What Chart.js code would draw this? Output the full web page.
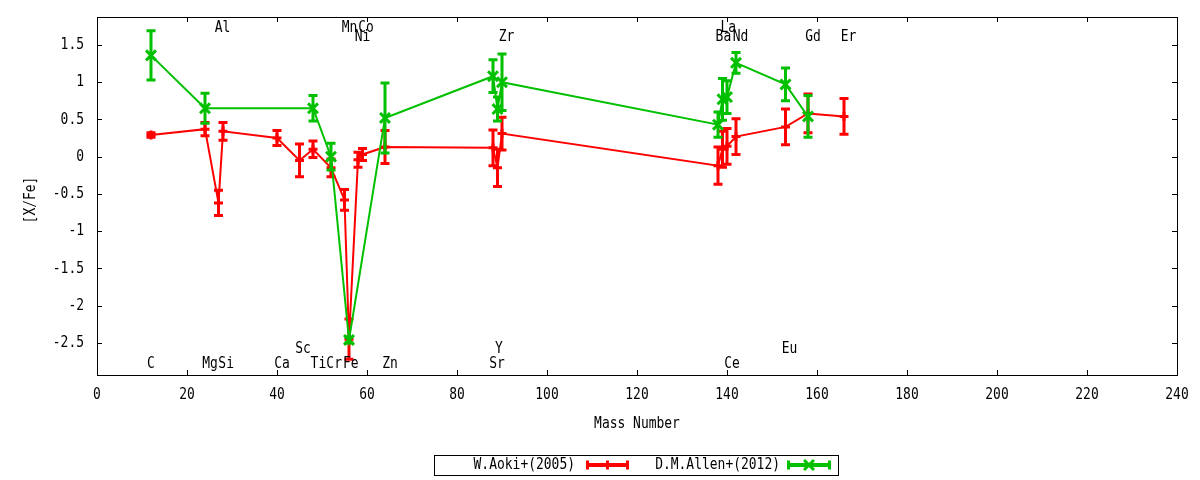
<!DOCTYPE html>
<html>
<head>
<meta charset="utf-8">
<script src="https://cdn.jsdelivr.net/npm/chart.js@4.4.0/dist/chart.umd.min.js"></script>
<style>
  html, body { margin: 0; padding: 0; background: #fff; }
  #wrap { width: 1200px; height: 480px; }
</style>
</head>
<body>
<div id="wrap"><canvas id="abundChart"></canvas></div>
<script>
// W.Aoki+(2005): mass number, [X/Fe], error
const aokiMass  = [12, 24, 27, 28, 40, 45, 48, 52, 55, 56, 58, 59, 64, 88, 89, 90, 138, 139, 140, 142, 153, 158, 166];
const aokiValue = [0.29, 0.37, -0.62, 0.34, 0.25, -0.05, 0.10, -0.15, -0.58, -2.45, -0.04, 0.03, 0.13, 0.12, -0.15, 0.31, -0.12, 0.10, 0.14, 0.27, 0.40, 0.58, 0.54];
const aokiError = [0.03, 0.09, 0.17, 0.12, 0.10, 0.22, 0.11, 0.12, 0.14, 0.27, 0.10, 0.08, 0.22, 0.24, 0.25, 0.22, 0.25, 0.24, 0.24, 0.24, 0.24, 0.26, 0.24];

// D.M.Allen+(2012)
const allenMass  = [12, 24, 48, 52, 56, 64, 88, 89, 90, 138, 139, 140, 142, 153, 158];
const allenValue = [1.36, 0.65, 0.65, 0.00, -2.46, 0.52, 1.08, 0.64, 1.00, 0.43, 0.77, 0.80, 1.26, 0.97, 0.54];
const allenError = [0.33, 0.20, 0.17, 0.18, 0.04, 0.47, 0.22, 0.16, 0.38, 0.17, 0.28, 0.22, 0.14, 0.22, 0.28];

const xTickValues = [0, 20, 40, 60, 80, 100, 120, 140, 160, 180, 200, 220, 240];
const yTickValues = [-2.5, -2, -1.5, -1, -0.5, 0, 0.5, 1, 1.5];

// element names: symbol, mass position, row
const labelRows = [1.734, 1.607, -2.581, -2.776];
const elementLabels = [
    ['Al', 27.9, 0], ['Mn', 56.1, 0], ['Co', 59.8, 0], ['La', 140.3, 0],
    ['Ni', 59.0, 1], ['Zr', 91.0, 1], ['Ba', 139.2, 1], ['Nd', 143.0, 1], ['Gd', 159.1, 1], ['Er', 167.0, 1],
    ['Sc', 45.8, 2], ['Y', 89.3, 2], ['Eu', 153.9, 2],
    ['C', 12.0, 3], ['Mg', 25.1, 3], ['Si', 28.7, 3], ['Ca', 41.1, 3], ['Ti', 49.2, 3], ['Cr', 52.7, 3],
    ['Fe', 56.4, 3], ['Zn', 65.1, 3], ['Sr', 88.9, 3], ['Ce', 141.1, 3]
];

const errorSets = [aokiError, allenError];
const FONT = '16px "DejaVu Sans Mono"';

function drawText(ctx, str, x, y, align, rot) {
    ctx.save();
    ctx.translate(x, y);
    if (rot) ctx.rotate(rot);
    ctx.scale(0.81, 1);
    ctx.font = FONT;
    ctx.fillStyle = '#000';
    ctx.textAlign = align;
    ctx.textBaseline = 'middle';
    ctx.fillText(str, 0, 0);
    ctx.restore();
}

const errorBars = {
    id: 'errorBars',
    afterDatasetDraw(chart, args) {
        const ds = chart.data.datasets[args.index];
        const errs = errorSets[args.index];
        const yScale = chart.scales.y;
        const ctx = chart.ctx;
        ctx.save();
        ctx.strokeStyle = ds.borderColor;
        ctx.lineWidth = 3;
        args.meta.data.forEach((pt, i) => {
            const v = ds.data[i].y;
            const top = yScale.getPixelForValue(v + errs[i]);
            const bot = yScale.getPixelForValue(v - errs[i]);
            ctx.beginPath();
            ctx.moveTo(pt.x, top);
            ctx.lineTo(pt.x, bot);
            ctx.moveTo(pt.x - 4.5, top);
            ctx.lineTo(pt.x + 4.5, top);
            ctx.moveTo(pt.x - 4.5, bot);
            ctx.lineTo(pt.x + 4.5, bot);
            ctx.stroke();
        });
        ctx.restore();
    }
};

const frameAndText = {
    id: 'frameAndText',
    afterDraw(chart) {
        const ctx = chart.ctx;
        const a = chart.chartArea;
        const xs = chart.scales.x, ys = chart.scales.y;

        ctx.save();
        ctx.strokeStyle = '#000';
        ctx.lineWidth = 1;
        ctx.strokeRect(Math.round(a.left) + 0.5, Math.round(a.top) + 0.5,
            Math.round(a.right - a.left), Math.round(a.bottom - a.top));

        ctx.beginPath();
        xs.ticks.forEach(t => {
            const px = Math.round(xs.getPixelForValue(t.value)) + 0.5;
            ctx.moveTo(px, a.bottom); ctx.lineTo(px, a.bottom - 5);
            ctx.moveTo(px, a.top); ctx.lineTo(px, a.top + 5);
        });
        ys.ticks.forEach(t => {
            const py = Math.round(ys.getPixelForValue(t.value)) + 0.5;
            ctx.moveTo(a.left, py); ctx.lineTo(a.left + 5, py);
            ctx.moveTo(a.right, py); ctx.lineTo(a.right - 5, py);
        });
        ctx.stroke();
        ctx.restore();

        xs.ticks.forEach(t => drawText(ctx, String(t.value), xs.getPixelForValue(t.value), a.bottom + 20, 'center'));
        ys.ticks.forEach(t => drawText(ctx, String(t.value), a.left - 13, ys.getPixelForValue(t.value), 'right'));

        drawText(ctx, 'Mass Number', (a.left + a.right) / 2, 424, 'center');
        drawText(ctx, '[X/Fe]', 31, 200, 'center', -Math.PI / 2);

        elementLabels.forEach(([sym, m, row]) => {
            drawText(ctx, sym, xs.getPixelForValue(m), ys.getPixelForValue(labelRows[row]), 'center');
        });

        // key box
        ctx.save();
        ctx.strokeStyle = '#000';
        ctx.lineWidth = 1;
        ctx.strokeRect(434.5, 455.5, 404, 20);
        ctx.restore();

        const keyEntries = [
            { textRight: 575, x0: 586, x1: 629 },
            { textRight: 780, x0: 787, x1: 831 }
        ];
        chart.data.datasets.forEach((ds, i) => {
            const k = keyEntries[i];
            const ky = 465;
            drawText(ctx, ds.label, k.textRight, ky, 'right');
            ctx.save();
            ctx.strokeStyle = ds.borderColor;
            ctx.lineWidth = 4;
            ctx.beginPath();
            ctx.moveTo(k.x0, ky); ctx.lineTo(k.x1, ky);
            ctx.stroke();
            ctx.lineWidth = 3;
            ctx.beginPath();
            ctx.moveTo(k.x0 + 1.5, ky - 4.5); ctx.lineTo(k.x0 + 1.5, ky + 4.5);
            ctx.moveTo(k.x1 - 1.5, ky - 4.5); ctx.lineTo(k.x1 - 1.5, ky + 4.5);
            ctx.stroke();
            Chart.helpers.drawPoint(ctx, {
                pointStyle: ds.pointStyle,
                radius: ds.pointRadius,
                borderWidth: ds.pointBorderWidth,
                rotation: 0
            }, (k.x0 + k.x1) / 2, ky);
            ctx.restore();
        });
    }
};

const ctx = document.getElementById('abundChart').getContext('2d');
new Chart(ctx, {
    type: 'line',
    data: {
        datasets: [
            {
                label: 'W.Aoki+(2005)',
                data: aokiMass.map((m, i) => ({ x: m, y: aokiValue[i] })),
                borderColor: '#ff0000',
                backgroundColor: '#ff0000',
                borderWidth: 2,
                pointStyle: 'cross',
                pointRadius: 4.5,
                pointHoverRadius: 4.5,
                pointBorderWidth: 3,
                tension: 0,
                order: 2
            },
            {
                label: 'D.M.Allen+(2012)',
                data: allenMass.map((m, i) => ({ x: m, y: allenValue[i] })),
                borderColor: '#00c000',
                backgroundColor: '#00c000',
                borderWidth: 2,
                pointStyle: 'crossRot',
                pointRadius: 7,
                pointHoverRadius: 7,
                pointBorderWidth: 3,
                tension: 0,
                order: 1
            }
        ]
    },
    options: {
        responsive: true,
        maintainAspectRatio: false,
        animation: false,
        devicePixelRatio: 1,
        layout: { padding: { top: 17, right: 23, left: 0, bottom: 0 } },
        plugins: {
            legend: { display: false },
            tooltip: { enabled: false }
        },
        scales: {
            x: {
                type: 'linear',
                min: 0,
                max: 240,
                ticks: { display: false },
                grid: { display: false },
                border: { display: false },
                afterBuildTicks(scale) { scale.ticks = xTickValues.map(v => ({ value: v })); },
                afterFit(scale) { scale.height = 105; }
            },
            y: {
                type: 'linear',
                min: -2.93,
                max: 1.875,
                ticks: { display: false },
                grid: { display: false },
                border: { display: false },
                afterBuildTicks(scale) { scale.ticks = yTickValues.map(v => ({ value: v })); },
                afterFit(scale) { scale.width = 97; }
            }
        }
    },
    plugins: [errorBars, frameAndText]
});
</script>
</body>
</html>
